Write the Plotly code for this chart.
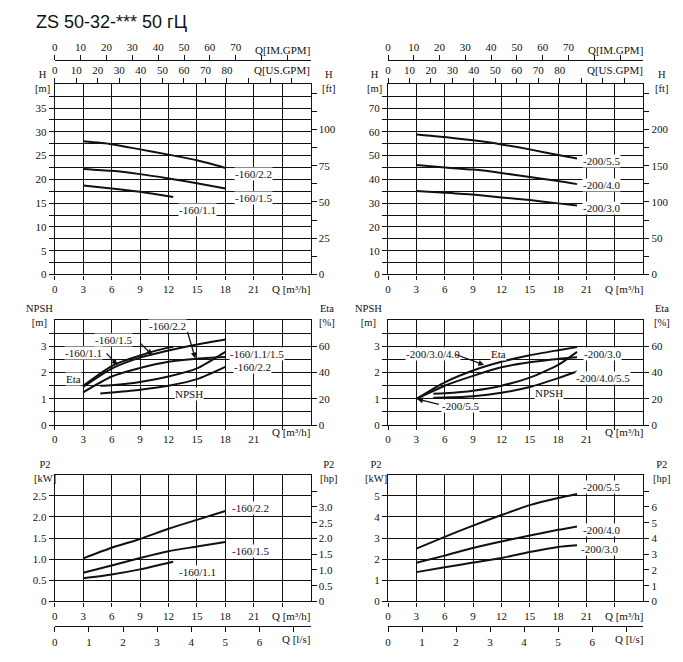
import plotly.graph_objects as go

# ---------------- data ----------------
TITLE = "ZS 50-32-*** 50 гЦ"

# flow axis ticks
q_tickvals = [0, 3, 6, 9, 12, 15, 18, 21, 24]
q_ticktext = ["0", "3", "6", "9", "12", "15", "18", "21", ""]
usgpm_tickvals = [0, 10, 20, 30, 40, 50, 60, 70, 80, 90, 100, 110]
usgpm_ticktext = ["0", "10", "20", "30", "40", "50", "60", "70", "80", "", "", ""]
imgpm_tickvals = [0, 10, 20, 30, 40, 50, 60, 70, 80, 90]
imgpm_ticktext = ["0", "10", "20", "30", "40", "50", "60", "70", "", ""]
ls_tickvals = [0, 1, 2, 3, 4, 5, 6, 7]
ls_ticktext = ["0", "1", "2", "3", "4", "5", "6", ""]

# left / right value axis ticks
h160_tickvals = [0, 2.5, 5, 7.5, 10, 12.5, 15, 17.5, 20, 22.5, 25, 27.5, 30, 32.5, 35, 37.5]
h160_ticktext = ["0", "", "5", "", "10", "", "15", "", "20", "", "25", "", "30", "", "35", ""]
ft160_tickvals = [0, 12.5, 25, 37.5, 50, 62.5, 75, 87.5, 100, 112.5, 125]
ft160_ticktext = ["0", "", "25", "", "50", "", "75", "", "100", "", ""]
h200_tickvals = [0, 5, 10, 15, 20, 25, 30, 35, 40, 45, 50, 55, 60, 65, 70, 75]
h200_ticktext = ["0", "", "10", "", "20", "", "30", "", "40", "", "50", "", "60", "", "70", ""]
ft200_tickvals = [0, 25, 50, 75, 100, 125, 150, 175, 200, 225, 250]
ft200_ticktext = ["0", "", "50", "", "100", "", "150", "", "200", "", ""]
npsh_tickvals = [0, 0.5, 1, 1.5, 2, 2.5, 3, 3.5]
npsh_ticktext = ["0", "", "1", "", "2", "", "3", ""]
eta_tickvals = [0, 20, 40, 60]
eta_ticktext = ["0", "20", "40", "60"]
kw160_tickvals = [0, 0.5, 1, 1.5, 2, 2.5]
kw160_ticktext = ["0", "0.5", "1.0", "1.5", "2.0", "2.5"]
hp160_tickvals = [0, 0.5, 1, 1.5, 2, 2.5, 3, 3.5]
hp160_ticktext = ["0", "0.5", "1.0", "1.5", "2.0", "2.5", "3.0", ""]
kw200_tickvals = [0, 1, 2, 3, 4, 5]
kw200_ticktext = ["0", "1", "2", "3", "4", "5"]
hp200_tickvals = [0, 1, 2, 3, 4, 5, 6, 7]
hp200_ticktext = ["0", "1", "2", "3", "4", "5", "6", ""]

# head curves, H [m] vs Q [m3/h]
q160 = [3, 6, 9, 12, 15, 18]
q160_11 = [3, 6, 9, 12.5]
h_160_22 = [28.0, 27.4, 26.3, 25.2, 24.0, 22.4]
h_160_15 = [22.2, 21.8, 21.1, 20.2, 19.2, 18.1]
h_160_11 = [18.7, 18.1, 17.4, 16.3]

q200 = [3, 6, 9, 12, 15, 18, 20]
h_200_55 = [58.9, 57.8, 56.4, 54.7, 52.6, 50.2, 48.8]
h_200_40 = [46.0, 45.0, 44.1, 42.7, 41.0, 39.3, 38.0]
h_200_30 = [35.1, 34.4, 33.6, 32.4, 31.3, 29.9, 29.0]

# efficiency [%] and NPSH [m]
q_eta160_11 = [3, 6, 9, 12, 12.5]
eta_160_11 = [30.0, 45.0, 53.0, 59.0, 59.6]
eta_160_15 = [29.0, 43.0, 51.4, 56.8, 61.4, 65.2]
eta_160_22 = [25.0, 37.0, 43.5, 48.2, 50.6, 51.8]
q_npsh160 = [4.8, 6, 9, 12, 15, 18]
npsh_160_11_15 = [1.5, 1.52, 1.64, 1.85, 2.16, 2.79]
npsh_160_22 = [1.2, 1.24, 1.35, 1.5, 1.75, 2.22]

eta_200_30_40 = [20.0, 32.6, 41.6, 48.2, 53.2, 57.0, 59.4]
eta_200_55 = [20.0, 30.0, 37.5, 44.0, 47.8, 50.4, 51.6]
q_npsh200 = [4.8, 6, 9, 12, 15, 18, 20]
npsh_200_30 = [1.19, 1.21, 1.31, 1.5, 1.81, 2.29, 2.79]
npsh_200_40_55 = [1.04, 1.05, 1.1, 1.23, 1.45, 1.79, 2.04]

# shaft power P2 [kW]
p_160_22 = [1.02, 1.27, 1.48, 1.72, 1.93, 2.14]
p_160_15 = [0.68, 0.85, 1.03, 1.19, 1.30, 1.41]
p_160_11 = [0.55, 0.64, 0.76, 0.94]
p_200_55 = [2.5, 3.06, 3.59, 4.09, 4.56, 4.9, 5.09]
p_200_40 = [1.83, 2.17, 2.53, 2.84, 3.12, 3.39, 3.55]
p_200_30 = [1.39, 1.62, 1.84, 2.06, 2.34, 2.58, 2.66]

# unit conversions
M_TO_FT = 3.28084
KW_TO_HP = 1.341
M3H_TO_USGPM = 4.40287
M3H_TO_IMGPM = 3.66615
M3H_TO_LS = 1 / 3.6
Q_MAX = 27

# ---------------- figure ----------------
W, H = 683, 662
SERIF = "Liberation Serif"
SANS = "Liberation Sans"
FS = 11
INK = "#111111"


def px(x):
    return x / W


def py(y):
    return 1 - y / H


def ax_key(p, n):
    return f"{p}axis" if n == 1 else f"{p}axis{n}"


def ax_ref(p, n):
    return p if n == 1 else f"{p}{n}"


# pixel boxes: left, right, top, bottom
BOX = {
    "TL": (52, 309, 85, 277),
    "TR": (386.7, 643, 85, 277),
    "ML": (52, 309, 323, 429),
    "MR": (386.7, 643, 323, 429),
    "BL": (52, 309, 479, 607),
    "BR": (386.7, 643, 479, 607),
}
PANELS = [  # key, x id, left y id, right y id, left range, right range, ticks
    ("TL", 1, 1, 2, 40, 40 * M_TO_FT, h160_tickvals, h160_ticktext, ft160_tickvals, ft160_ticktext),
    ("TR", 2, 3, 4, 80, 80 * M_TO_FT, h200_tickvals, h200_ticktext, ft200_tickvals, ft200_ticktext),
    ("ML", 3, 5, 6, 4, 80, npsh_tickvals, npsh_ticktext, eta_tickvals, eta_ticktext),
    ("MR", 4, 7, 8, 4, 80, npsh_tickvals, npsh_ticktext, eta_tickvals, eta_ticktext),
    ("BL", 5, 9, 10, 3, 3 * KW_TO_HP, kw160_tickvals, kw160_ticktext, hp160_tickvals, hp160_ticktext),
    ("BR", 6, 11, 12, 6, 6 * KW_TO_HP, kw200_tickvals, kw200_ticktext, hp200_tickvals, hp200_ticktext),
]

tfont = dict(family=SERIF, size=FS, color=INK)
layout = dict(
    width=W, height=H, margin=dict(l=0, r=0, t=0, b=0),
    paper_bgcolor="white", plot_bgcolor="white", showlegend=False,
    font=tfont,
)

fig = go.Figure()


def dummy(xa, ya):
    fig.add_trace(go.Scatter(x=[None], y=[None], xaxis=xa, yaxis=ya, mode="lines",
                             showlegend=False, hoverinfo="skip"))


for key, xi, yl, yr, rl, rr, ltv, ltt, rtv, rtt in PANELS:
    l, r, t, b = BOX[key]
    xdom = [px(l), px(r)]
    ydom = [py(b), py(t)]
    layout[ax_key("x", xi)] = dict(
        domain=xdom, range=[0, Q_MAX], anchor=ax_ref("y", yl),
        tickvals=q_tickvals, ticktext=q_ticktext,
        showgrid=True, gridcolor=INK, gridwidth=1.2,
        showline=True, linecolor=INK, linewidth=1.3, mirror=True,
        ticks="outside", ticklen=4, tickcolor=INK, tickfont=tfont,
        zeroline=False, fixedrange=True,
    )
    layout[ax_key("y", yl)] = dict(
        domain=ydom, range=[0, rl], anchor=ax_ref("x", xi),
        tickvals=ltv, ticktext=ltt,
        showgrid=True, gridcolor=INK, gridwidth=1.2,
        showline=True, linecolor=INK, linewidth=1.3, mirror=True,
        ticks="outside", ticklen=5, tickcolor=INK, tickfont=tfont,
        zeroline=False, fixedrange=True,
    )
    layout[ax_key("y", yr)] = dict(
        domain=ydom, range=[0, rr], anchor=ax_ref("x", xi),
        overlaying=ax_ref("y", yl), side="right",
        tickvals=rtv, ticktext=rtt, showgrid=False, showline=False,
        ticks="outside", ticklen=5, tickcolor=INK, tickfont=tfont,
        zeroline=False, fixedrange=True,
    )
    dummy(ax_ref("x", xi), ax_ref("y", yr))

# secondary flow axes
EXTRA = [
    # x id, base x, base y, range, tickvals, ticktext, side, free position (px) or None
    (7, 1, 1, Q_MAX * M3H_TO_USGPM, usgpm_tickvals, usgpm_ticktext, "top", None, "TL"),
    (8, 1, 1, Q_MAX * M3H_TO_IMGPM, imgpm_tickvals, imgpm_ticktext, "top", 61, "TL"),
    (9, 2, 3, Q_MAX * M3H_TO_USGPM, usgpm_tickvals, usgpm_ticktext, "top", None, "TR"),
    (10, 2, 3, Q_MAX * M3H_TO_IMGPM, imgpm_tickvals, imgpm_ticktext, "top", 61, "TR"),
    (11, 5, 9, Q_MAX * M3H_TO_LS, ls_tickvals, ls_ticktext, "bottom", 632, "BL"),
    (12, 6, 11, Q_MAX * M3H_TO_LS, ls_tickvals, ls_ticktext, "bottom", 632, "BR"),
]
for xi, bx, by, rng, tv, tt, side, pos, key in EXTRA:
    l, r, t, b = BOX[key]
    d = dict(
        domain=[px(l), px(r)], range=[0, rng], overlaying=ax_ref("x", bx), side=side,
        tickvals=tv, ticktext=tt, showgrid=False, zeroline=False, fixedrange=True,
        ticks="outside", ticklen=5, tickcolor=INK, tickfont=tfont,
    )
    if pos is None:
        d.update(anchor=ax_ref("y", by), showline=False)
    else:
        d.update(anchor="free", position=py(pos), showline=True, linecolor=INK, linewidth=1.3)
    layout[ax_key("x", xi)] = d
    dummy(ax_ref("x", xi), ax_ref("y", by))


def curve(q, v, xa, ya):
    fig.add_trace(go.Scatter(
        x=q, y=v, xaxis=xa, yaxis=ya, mode="lines",
        line=dict(color=INK, width=2, shape="spline", smoothing=0.6),
        hoverinfo="skip", showlegend=False))


# top: head
curve(q160, h_160_22, "x", "y")
curve(q160, h_160_15, "x", "y")
curve(q160_11, h_160_11, "x", "y")
curve(q200, h_200_55, "x2", "y3")
curve(q200, h_200_40, "x2", "y3")
curve(q200, h_200_30, "x2", "y3")
# middle: eta (right axis) + NPSH (left axis)
curve(q_eta160_11, eta_160_11, "x3", "y6")
curve(q160, eta_160_15, "x3", "y6")
curve(q160, eta_160_22, "x3", "y6")
curve(q_npsh160, npsh_160_11_15, "x3", "y5")
curve(q_npsh160, npsh_160_22, "x3", "y5")
curve(q200, eta_200_30_40, "x4", "y8")
curve(q200, eta_200_55, "x4", "y8")
curve(q_npsh200, npsh_200_30, "x4", "y7")
curve(q_npsh200, npsh_200_40_55, "x4", "y7")
# bottom: power
curve(q160, p_160_22, "x5", "y9")
curve(q160, p_160_15, "x5", "y9")
curve(q160_11, p_160_11, "x5", "y9")
curve(q200, p_200_55, "x6", "y11")
curve(q200, p_200_40, "x6", "y11")
curve(q200, p_200_30, "x6", "y11")

ann = []


def label(text, x, y, xr, yr, bg=True):
    ann.append(dict(text=text, x=x, y=y, xref=xr, yref=yr, xanchor="left", yanchor="middle",
                    showarrow=False, font=tfont, bgcolor="white" if bg else None, borderpad=0))


def ptext(text, x, y, xanchor="center", font=None, yanchor="middle"):
    ann.append(dict(text=text, x=px(x), y=py(y), xref="paper", yref="paper", xanchor=xanchor,
                    yanchor=yanchor, showarrow=False, font=font or tfont, borderpad=0))


def leader(hx, hy, tx, ty, xr, yr):
    ann.append(dict(text="", x=hx, y=hy, ax=tx, ay=ty, xref=xr, yref=yr, axref=xr, ayref=yr,
                    showarrow=True, arrowhead=2, arrowsize=0.9, arrowwidth=1.3, arrowcolor=INK,
                    standoff=0, startstandoff=0))


# curve labels
label("-160/2.2", 18.9, 21.1, "x", "y")
label("-160/1.5", 18.9, 16.0, "x", "y")
label("-160/1.1", 13.0, 13.5, "x", "y")
label("-200/5.5", 20.5, 47.7, "x2", "y3")
label("-200/4.0", 20.5, 37.6, "x2", "y3")
label("-200/3.0", 20.5, 27.8, "x2", "y3")

label("-160/2.2", 9.8, 3.76, "x3", "y5")
label("-160/1.5", 4.1, 3.26, "x3", "y5")
label("-160/1.1", 0.95, 2.73, "x3", "y5")
label("Eta", 1.1, 1.75, "x3", "y5")
label("-160/1.1/1.5", 18.4, 2.71, "x3", "y5")
label("-160/2.2", 18.85, 2.2, "x3", "y5")
label("NPSH", 12.6, 1.2, "x3", "y5")
leader(6.61, 2.29, 5.32, 2.79, "x3", "y5")
leader(10.28, 2.67, 8.89, 3.17, "x3", "y5")
leader(14.83, 2.54, 13.96, 3.61, "x3", "y5")

label("-200/3.0/4.0", 1.75, 2.71, "x4", "y7")
label("Eta", 10.8, 2.71, "x4", "y7")
label("-200/3.0", 20.6, 2.71, "x4", "y7")
label("-200/4.0/5.5", 19.75, 1.79, "x4", "y7")
label("NPSH", 15.5, 1.22, "x4", "y7")
label("-200/5.5", 5.6, 0.72, "x4", "y7")
leader(10.17, 2.29, 7.01, 2.71, "x4", "y7")
leader(3.08, 0.99, 5.54, 0.78, "x4", "y7")

label("-160/2.2", 18.6, 2.21, "x5", "y9")
label("-160/1.5", 18.6, 1.195, "x5", "y9")
label("-160/1.1", 13.0, 0.687, "x5", "y9")
label("-200/5.5", 20.5, 5.41, "x6", "y11")
label("-200/4.0", 20.5, 3.38, "x6", "y11")
label("-200/3.0", 20.3, 2.48, "x6", "y11")

# axis titles (two-line stacks)
t2font = dict(family=SERIF, size=10.5, color=INK)
for cx_l, cx_r in [(40, 327), (373, 661)]:
    ptext("H<br>[m]", cx_l, 96, font=t2font, yanchor="bottom")
    ptext("H<br>[ft]", cx_r, 96, font=t2font, yanchor="bottom")
for cx_l, cx_r in [(37, 325), (367, 662)]:
    ptext("NPSH<br>[m]", cx_l, 332, font=t2font, yanchor="bottom")
    ptext("Eta<br>[%]", cx_r, 332, font=t2font, yanchor="bottom")
for cx_l, cx_r in [(42, 327), (375, 662)]:
    ptext("P2<br>[kW]", cx_l, 489, font=t2font, yanchor="bottom")
    ptext("P2<br>[hp]", cx_r, 489, font=t2font, yanchor="bottom")

for right in (309, 644):
    ptext("Q[IM.GPM]", right, 50, "right")
    ptext("Q[US.GPM]", right, 71, "right")
    ptext("Q [m³/h]", right, 292, "right")
    ptext("Q [m³/h]", right, 436, "right")
    ptext("Q [m³/h]", right, 622, "right")
    ptext("Q [l/s]", right, 645, "right")

ptext(TITLE, 32, 22, "left", dict(family=SANS, size=18, color="#111111"))

layout["annotations"] = ann
fig.update_layout(**layout)
fig.write_html(
    "out.html",
    config={"displayModeBar": False},
    post_script="document.body.style.margin='0';document.body.style.padding='0';"
                "document.body.style.overflow='hidden';",
)
